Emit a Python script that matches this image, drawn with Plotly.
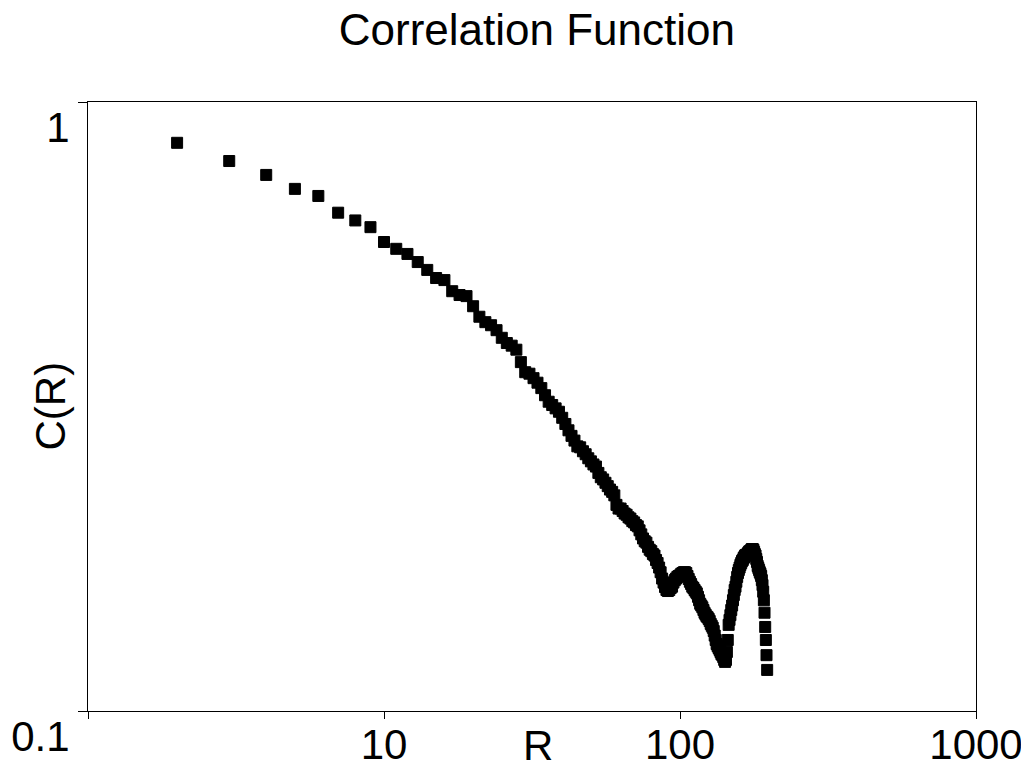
import plotly.graph_objects as go

R = list(range(2, 198))
C = [
    0.857, 0.800, 0.759, 0.720, 0.701, 0.658, 0.639, 0.623, 0.589,          # 2-10
    0.574, 0.563, 0.546, 0.530, 0.514, 0.510, 0.489, 0.482, 0.480, 0.462,   # 11-20
    0.444, 0.435, 0.430, 0.422, 0.410, 0.402, 0.398, 0.392, 0.374, 0.360,   # 21-30
    0.358, 0.352, 0.346, 0.339, 0.330, 0.322, 0.318, 0.314, 0.310, 0.303,   # 31-40
    0.296, 0.289, 0.283, 0.278, 0.272, 0.271, 0.267, 0.264, 0.260, 0.257,   # 41-50
    0.254, 0.252, 0.246, 0.242, 0.240, 0.237, 0.234, 0.231, 0.229, 0.226,   # 51-60
    0.218, 0.215, 0.215, 0.213, 0.211, 0.210, 0.208, 0.207, 0.205, 0.204,   # 61-70
    0.202, 0.201, 0.198, 0.195, 0.192, 0.190, 0.189, 0.186, 0.184, 0.183,   # 71-80
    0.181, 0.180, 0.177, 0.175, 0.172, 0.169, 0.165, 0.1625, 0.1598, 0.158, # 81-90
    0.1574, 0.158, 0.1592, 0.160, 0.1625, 0.164, 0.165, 0.166, 0.1666, 0.167,  # 91-100
    0.168, 0.1685, 0.169, 0.169, 0.1685, 0.1666, 0.1647, 0.163, 0.1616, 0.160, # 101-110
    0.1592, 0.158, 0.157, 0.156, 0.154, 0.152, 0.150, 0.149, 0.148, 0.1465,    # 111-120
    0.145, 0.144, 0.143, 0.1425, 0.1416, 0.1405, 0.139, 0.138, 0.137, 0.1353,  # 121-130
    0.133, 0.1308, 0.1288, 0.1278, 0.1269, 0.126, 0.125, 0.124, 0.1235, 0.1226, # 131-140
    0.1213, 0.1204, 0.1213, 0.125, 0.1308, 0.1385, 0.1411, 0.1437, 0.1465, 0.149, # 141-150
    0.152, 0.155, 0.158, 0.160, 0.163, 0.166, 0.1685, 0.1704, 0.172, 0.1737,   # 151-160
    0.175, 0.1763, 0.177, 0.1783, 0.179, 0.180, 0.1804, 0.1804, 0.181, 0.1818, # 161-170
    0.1825, 0.183, 0.183, 0.1839, 0.1845, 0.1845, 0.1839, 0.1825, 0.181, 0.180, # 171-180
    0.1777, 0.1757, 0.173, 0.1717, 0.1704, 0.169, 0.168, 0.1666, 0.164, 0.161, # 181-190
    0.157, 0.152, 0.145, 0.1374, 0.1308, 0.1235, 0.1168,                      # 191-197
]

x_tickvals = [1, 10, 100, 1000]
x_ticktext = ["", "10", "100", "1000"]
y_tickvals = [0.1, 1]
y_ticktext = ["0.1", "1"]

FONT = "Liberation Sans, Arial, sans-serif"

fig = go.Figure()
fig.add_trace(go.Scatter(
    x=R, y=C, mode="markers",
    marker=dict(symbol="square", size=11, color="black",
                line=dict(color="black", width=1)),
    showlegend=False, hoverinfo="skip",
))

# the page body has an 8 px margin, so the figure is sized to fill the rest
fig.update_layout(
    width=1021, height=757,
    paper_bgcolor="white", plot_bgcolor="white",
    margin=dict(l=80, r=53, t=94, b=54, autoexpand=False),
    font=dict(family=FONT, size=42, color="black"),
    title=dict(text="Correlation Function", x=0.518, xanchor="center",
               y=0.992, yanchor="top", yref="container",
               font=dict(family=FONT, size=44, color="black")),
    xaxis=dict(type="log", range=[0, 3], showgrid=False, zeroline=False,
               automargin=False,
               showline=True, linecolor="black", linewidth=1, mirror=True,
               ticks="outside", ticklen=7, tickcolor="black", tickwidth=1,
               tickvals=x_tickvals, ticktext=x_ticktext,
               ticklabelstandoff=-10,
               tickfont=dict(family=FONT, size=42, color="black")),
    yaxis=dict(type="log", range=[-1, 0], showgrid=False, zeroline=False,
               automargin=False,
               showline=True, linecolor="black", linewidth=1, mirror=True,
               ticks="outside", ticklen=9, tickcolor="black", tickwidth=1,
               tickvals=y_tickvals, ticktext=y_ticktext,
               ticklabelshift=25, ticklabelstandoff=0,
               tickfont=dict(family=FONT, size=42, color="black")),
    annotations=[
        dict(text="R", xref="paper", yref="paper", x=0.507, y=0,
             xanchor="center", yanchor="top", yshift=-9, showarrow=False,
             font=dict(family=FONT, size=42, color="black")),
        dict(text="C(R)", xref="paper", yref="paper", x=0, y=0.5,
             xanchor="center", yanchor="middle", xshift=-38, textangle=-90,
             showarrow=False, font=dict(family=FONT, size=42, color="black")),
    ],
)

fig.write_html("out.html")
